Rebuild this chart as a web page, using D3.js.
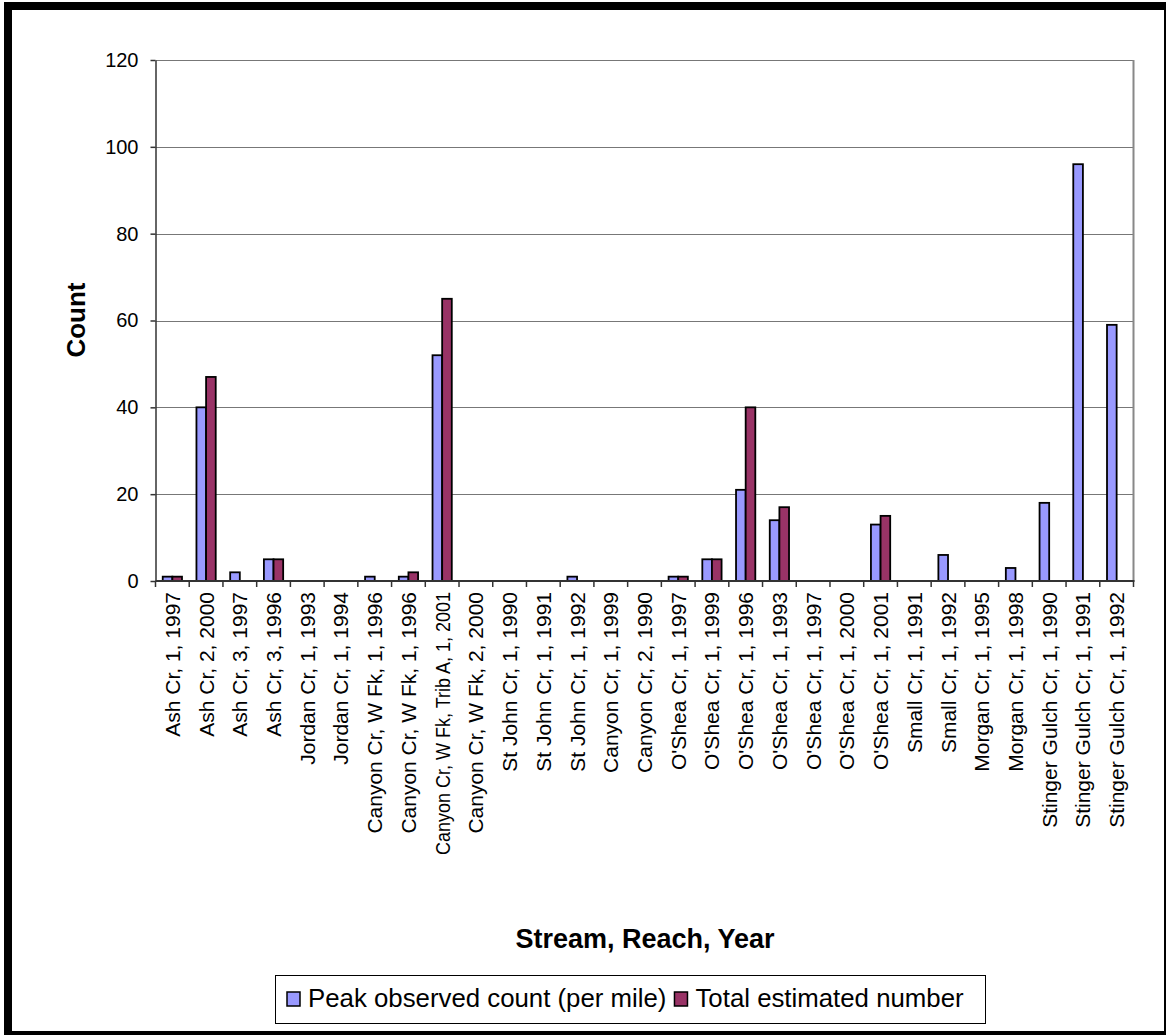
<!DOCTYPE html>
<html>
<head>
<meta charset="utf-8">
<script src="https://cdn.jsdelivr.net/npm/d3@7"></script>
<style>
  html, body { margin: 0; padding: 0; background: #fff; }
  svg { display: block; font-family: "Liberation Sans", Arial, sans-serif; }
</style>
</head>
<body>
<svg id="chart" width="1166" height="1035"></svg>
<script>
// Stream reaches surveyed (stream, reach, year)
const categories = [
  "Ash Cr, 1, 1997", "Ash Cr, 2, 2000", "Ash Cr, 3, 1997", "Ash Cr, 3, 1996",
  "Jordan Cr, 1, 1993", "Jordan Cr, 1, 1994",
  "Canyon Cr, W Fk, 1, 1996", "Canyon Cr, W Fk, 1, 1996",
  "Canyon Cr, W Fk, Trib A, 1, 2001", "Canyon Cr, W Fk, 2, 2000",
  "St John Cr, 1, 1990", "St John Cr, 1, 1991", "St John Cr, 1, 1992",
  "Canyon Cr, 1, 1999", "Canyon Cr, 2, 1990",
  "O'Shea Cr, 1, 1997", "O'Shea Cr, 1, 1999", "O'Shea Cr, 1, 1996",
  "O'Shea Cr, 1, 1993", "O'Shea Cr, 1, 1997", "O'Shea Cr, 1, 2000",
  "O'Shea Cr, 1, 2001", "Small Cr, 1, 1991", "Small Cr, 1, 1992",
  "Morgan Cr, 1, 1995", "Morgan Cr, 1, 1998",
  "Stinger Gulch Cr, 1, 1990", "Stinger Gulch Cr, 1, 1991", "Stinger Gulch Cr, 1, 1992"
];

// Peak observed count (per mile)
const peakObserved = [1, 40, 2, 5, 0, 0, 1, 1, 52, 0, 0, 0, 1, 0, 0, 1, 5, 21, 14, 0, 0, 13, 0, 6, 0, 3, 18, 96, 59];

// Total estimated number
const totalEstimated = [1, 47, 0, 5, 0, 0, 0, 2, 65, 0, 0, 0, 0, 0, 0, 1, 5, 40, 17, 0, 0, 15, 0, 0, 0, 0, 0, 0, 0];

const seriesNames = ["Peak observed count (per mile)", "Total estimated number"];
const seriesColors = ["#9999FF", "#993366"];
const yTicks = [0, 20, 40, 60, 80, 100, 120];

const svg = d3.select("#chart");

// Outer frame
svg.append("rect")
  .attr("x", 8).attr("y", 6)
  .attr("width", 1160).attr("height", 1029)
  .attr("fill", "none").attr("stroke", "#000").attr("stroke-width", 8);

const plot = { left: 155.5, right: 1133.5, top: 60, bottom: 581 };

const x = d3.scaleBand()
  .domain(d3.range(categories.length))
  .range([plot.left, plot.right])
  .paddingInner(0).paddingOuter(0);

const step = x.bandwidth();
const barW = step / 3.5;

const y = d3.scaleLinear().domain([0, 120]).range([plot.bottom, plot.top]);

// Gridlines
svg.append("g")
  .selectAll("line")
  .data(yTicks.filter(d => d > 0))
  .join("line")
  .attr("x1", plot.left).attr("x2", plot.right)
  .attr("y1", d => Math.round(y(d)) + 0.5).attr("y2", d => Math.round(y(d)) + 0.5)
  .attr("stroke", "#777").attr("stroke-width", 1.2);

// Right border of plot area
svg.append("line")
  .attr("x1", plot.right).attr("x2", plot.right)
  .attr("y1", plot.top).attr("y2", plot.bottom)
  .attr("stroke", "#888").attr("stroke-width", 2);

// Bars
const series = [peakObserved, totalEstimated];
series.forEach((vals, s) => {
  svg.append("g")
    .selectAll("rect")
    .data(vals.map((v, i) => ({ v, i })).filter(d => d.v > 0))
    .join("rect")
    .attr("x", d => x(d.i) + (step - 2 * barW) / 2 + s * barW)
    .attr("y", d => y(d.v))
    .attr("width", barW)
    .attr("height", d => y(0) - y(d.v))
    .attr("fill", seriesColors[s])
    .attr("stroke", "#000")
    .attr("stroke-width", 1.8);
});

// Y axis
const yAxis = d3.axisLeft(y).tickValues(yTicks).tickSize(5).tickPadding(12).tickSizeOuter(0);
const gy = svg.append("g")
  .attr("transform", `translate(${plot.left},0)`)
  .call(yAxis);
gy.select(".domain").attr("stroke", "#333").attr("stroke-width", 1.5);
gy.selectAll(".tick line").attr("stroke", "#333").attr("stroke-width", 1.5);
gy.selectAll(".tick text")
  .attr("font-size", 20).attr("fill", "#000")
  .attr("font-family", "Liberation Sans, Arial, sans-serif");

// X axis line and category separator ticks
svg.append("line")
  .attr("x1", plot.left).attr("x2", plot.right + 1)
  .attr("y1", plot.bottom).attr("y2", plot.bottom)
  .attr("stroke", "#333").attr("stroke-width", 1.8);

const boundaries = d3.range(categories.length + 1).map(i => plot.left + i * step);
svg.append("g")
  .selectAll("line")
  .data(boundaries)
  .join("line")
  .attr("x1", d => d).attr("x2", d => d)
  .attr("y1", plot.bottom).attr("y2", plot.bottom + 6)
  .attr("stroke", "#333").attr("stroke-width", 1.5);

// Category labels (long ones are squeezed to fit above the axis title)
const maxLabelLen = 263;
svg.append("g")
  .selectAll("text")
  .data(categories)
  .join("text")
  .attr("transform", (d, i) => `translate(${x(i) + step / 2 + 7.5},${plot.bottom + 11}) rotate(-90)`)
  .attr("text-anchor", "end")
  .attr("font-size", 21)
  .text(d => d)
  .each(function () {
    if (this.getComputedTextLength() > maxLabelLen) {
      d3.select(this)
        .attr("textLength", maxLabelLen)
        .attr("lengthAdjust", "spacingAndGlyphs");
    }
  });

// Axis titles
svg.append("text")
  .attr("transform", "translate(85,320) rotate(-90)")
  .attr("text-anchor", "middle")
  .attr("font-size", 26).attr("font-weight", "bold")
  .text("Count");

svg.append("text")
  .attr("x", 645).attr("y", 948)
  .attr("text-anchor", "middle")
  .attr("font-size", 27).attr("font-weight", "bold")
  .text("Stream, Reach, Year");

// Legend
const legend = svg.append("g");
legend.append("rect")
  .attr("x", 275.5).attr("y", 975.5)
  .attr("width", 710).attr("height", 48)
  .attr("fill", "#fff").attr("stroke", "#000").attr("stroke-width", 1);

let lx = 287;
seriesNames.forEach((name, s) => {
  legend.append("rect")
    .attr("x", lx).attr("y", 992)
    .attr("width", 13).attr("height", 14)
    .attr("fill", seriesColors[s]).attr("stroke", "#000").attr("stroke-width", 1.5);
  const t = legend.append("text")
    .attr("x", lx + 21).attr("y", 1007)
    .attr("font-size", 25.8)
    .text(name);
  lx += 21 + t.node().getComputedTextLength() + 8;
});
</script>
</body>
</html>
